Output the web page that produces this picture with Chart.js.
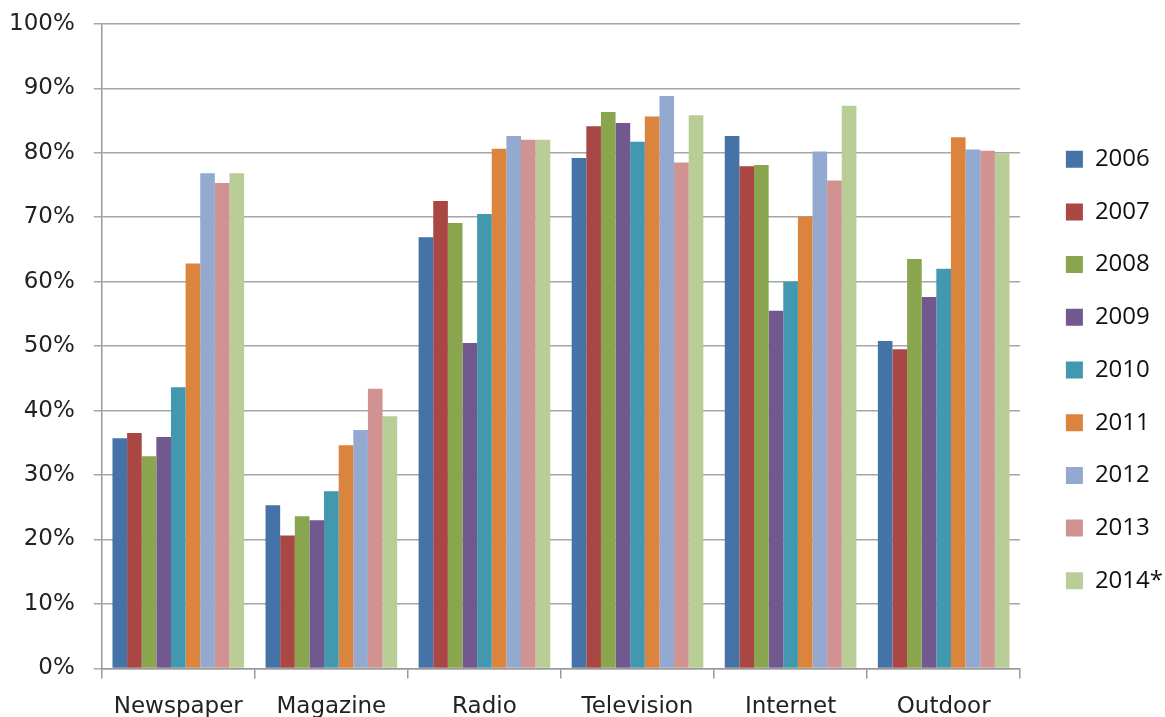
<!DOCTYPE html>
<html>
<head>
<meta charset="utf-8">
<script src="https://cdn.jsdelivr.net/npm/chart.js@4"></script>
<style>
    html, body { margin: 0; padding: 0; background: #fff; overflow: hidden; }
    #wrap { width: 1165px; height: 761px; margin-top: -9px; }
</style>
</head>
<body>
<div id="wrap"><canvas id="media-chart"></canvas></div>
<script>
// Categories and tick labels
const categories = ['Newspaper', 'Magazine', 'Radio', 'Television', 'Internet', 'Outdoor'];
const years = ['2006', '2007', '2008', '2009', '2010', '2011', '2012', '2013', '2014*'];
const yTicks = [0, 10, 20, 30, 40, 50, 60, 70, 80, 90, 100];

// Share per medium, one array per year (percent)
const y2006 = [35.7, 25.3, 66.9, 79.2, 82.6, 50.8];
const y2007 = [36.5, 20.6, 72.5, 84.1, 77.9, 49.5];
const y2008 = [32.9, 23.6, 69.1, 86.3, 78.1, 63.5];
const y2009 = [35.9, 23.0, 50.5, 84.6, 55.5, 57.6];
const y2010 = [43.6, 27.5, 70.5, 81.7, 60.0, 62.0];
const y2011 = [62.8, 34.6, 80.6, 85.6, 70.1, 82.4];
const y2012 = [76.8, 37.0, 82.6, 88.8, 80.2, 80.5];
const y2013 = [75.3, 43.4, 82.0, 78.5, 75.7, 80.3];
const y2014 = [76.8, 39.1, 82.0, 85.8, 87.3, 79.9];

const seriesValues = [y2006, y2007, y2008, y2009, y2010, y2011, y2012, y2013, y2014];
const seriesColors = ['#4572A7', '#AA4643', '#89A54E', '#71588F', '#4198AF',
                      '#DB843D', '#93A9CF', '#D19392', '#B9CD96'];

const datasets = years.map((year, i) => ({
    label: year,
    data: seriesValues[i],
    backgroundColor: seriesColors[i],
    borderWidth: 0,
    categoryPercentage: 0.86,
    barPercentage: 1.0
}));

// push the legend a bit further right of the plot, like the original
const legendShift = {
    id: 'legendShift',
    afterLayout(chart) {
        chart.legend.left += 17;
        chart.legend.right += 17;
        chart.legend.top += 4;
        chart.legend.bottom += 4;
    }
};

const ctx = document.getElementById('media-chart').getContext('2d');
new Chart(ctx, {
    type: 'bar',
    data: { labels: categories, datasets: datasets },
    plugins: [legendShift],
    options: {
        responsive: true,
        maintainAspectRatio: false,
        animation: false,
        layout: { padding: { top: 5, left: -10, right: 9, bottom: 16 } },
        plugins: {
            tooltip: { enabled: false },
            legend: {
                position: 'right',
                align: 'center',
                labels: {
                    boxWidth: 17,
                    boxHeight: 17,
                    padding: 28.7,
                    color: '#111',
                    font: { family: 'Open Sans', size: 24 }
                }
            }
        },
        scales: {
            x: {
                grid: {
                    offset: true,
                    drawOnChartArea: false,
                    drawTicks: true,
                    tickLength: 10,
                    color: '#999',
                    lineWidth: 1.5
                },
                border: { color: '#999', width: 1.5 },
                ticks: {
                    color: '#222',
                    padding: 15,
                    font: { family: 'DejaVu Sans', size: 23 }
                }
            },
            y: {
                min: 0,
                max: 100,
                afterBuildTicks: axis => { axis.ticks = yTicks.map(v => ({ value: v })); },
                grid: {
                    color: '#a6a6a6',
                    lineWidth: 1.5,
                    tickLength: 8
                },
                border: { color: '#999', width: 1.5 },
                ticks: {
                    color: '#222',
                    padding: 19,
                    font: { family: 'DejaVu Sans', size: 23 },
                    callback: v => v + '%'
                }
            }
        }
    }
});
</script>
</body>
</html>
